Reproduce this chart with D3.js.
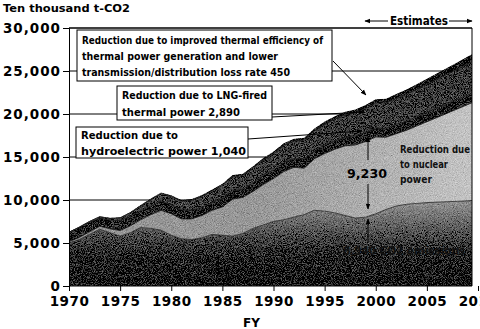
<!DOCTYPE html>
<meta charset="utf-8">
<script src="https://d3js.org/d3.v7.min.js"></script>
<style>
  body { margin: 0; background: #fff; }
  text { font-family: "DejaVu Sans", sans-serif; }
  .box text { font-family: "DejaVu Sans Condensed", "Liberation Sans Narrow", "DejaVu Sans", sans-serif; font-weight: bold; }
</style>
<div id="chart"></div>
<script>
// fiscal years
var years = d3.range(1970, 2011);

// CO2 emissions and reductions, ten thousand t-CO2
var emissions = [5000,5400,6000,6600,6200,5800,6200,6800,6700,6500,
                 5900,5500,5400,5600,6000,5900,5800,6100,6700,7100,
                 7500,7700,8000,8300,8800,8700,8500,8200,7900,8000,
                 8400,8900,9300,9500,9600,9700,9750,9800,9850,9900,
                 10000];
var nuclear = [150,250,300,350,450,650,800,900,1600,2300,
               2500,2300,2400,2600,2800,3300,4300,4200,4300,4700,
               5000,5600,5800,5400,6000,6700,7400,8100,8500,8800,
               8930,8400,8400,8600,9000,9400,9850,10300,10750,11200,
               11600];
var hydro = [1100,1150,1100,950,1000,1150,1100,1050,1000,1050,
             1050,1050,1000,950,900,1000,1000,950,1000,1050,
             1000,1050,1000,1100,950,1000,1000,1000,1050,1040,
             1040,1050,1060,1070,1080,1090,1100,1110,1120,1130,
             1150];
var lng = [0,50,100,150,200,300,400,550,750,900,
           950,1000,1150,1250,1350,1500,1600,1600,1700,1800,
           1900,2000,2050,2150,2250,2400,2500,2600,2700,2800,
           2890,2950,3030,3100,3180,3260,3340,3420,3500,3600,
           3700];
var efficiency = [50,50,60,70,80,90,100,110,120,130,
                  140,150,160,170,180,190,200,210,220,230,
                  240,250,260,280,300,320,340,360,380,420,
                  450,480,530,570,610,660,700,750,800,850,
                  900];

var yTicks = [0, 5000, 10000, 15000, 20000, 25000, 30000];
var xTicks = [1970, 1975, 1980, 1985, 1990, 1995, 2000, 2005, 2010];

var keys = ["emissions", "nuclear", "hydro", "lng", "efficiency"];
var table = years.map(function(yr, i) {
  return {year: yr, emissions: emissions[i], nuclear: nuclear[i], hydro: hydro[i],
          lng: lng[i], efficiency: efficiency[i]};
});

var W = 480, H = 329;
var pL = 69, pR = 472, pT = 28, pB = 286;

var svg = d3.select("#chart").append("svg")
  .attr("width", W).attr("height", H);

var x = d3.scaleLinear().domain([1970, 2010]).range([pL, 478]);
var y = d3.scaleLinear().domain([0, 30000]).range([pB, pT]);

var defs = svg.append("defs");
defs.append("clipPath").attr("id", "plot")
  .append("rect").attr("x", pL).attr("y", pT).attr("width", pR - pL).attr("height", pB - pT);

var gE = defs.append("linearGradient").attr("id", "gE")
  .attr("gradientUnits", "userSpaceOnUse").attr("x1", 0).attr("x2", 0).attr("y1", pB).attr("y2", 205);
gE.append("stop").attr("offset", 0).attr("stop-color", "#050505");
gE.append("stop").attr("offset", 0.35).attr("stop-color", "#222");
gE.append("stop").attr("offset", 1).attr("stop-color", "#8c8c8c");

var gN = defs.append("linearGradient").attr("id", "gN")
  .attr("gradientUnits", "userSpaceOnUse").attr("x1", 250).attr("x2", pR).attr("y1", 0).attr("y2", 0);
gN.append("stop").attr("offset", 0).attr("stop-color", "#979797");
gN.append("stop").attr("offset", 1).attr("stop-color", "#c4c4c4");

// scan-like speckle
var f = defs.append("filter").attr("id", "grain").attr("x", 0).attr("y", 0).attr("width", 1).attr("height", 1);
f.append("feTurbulence").attr("type", "fractalNoise").attr("baseFrequency", 1.1).attr("numOctaves", 2).attr("seed", 4).attr("result", "n");
f.append("feColorMatrix").attr("in", "n").attr("type", "matrix")
  .attr("values", "0.33 0.33 0.33 0 0  0.33 0.33 0.33 0 0  0.33 0.33 0.33 0 0  0 0 0 0 1").attr("result", "g");
f.append("feComposite").attr("in", "SourceGraphic").attr("in2", "g").attr("operator", "arithmetic")
  .attr("k1", 0).attr("k2", 1).attr("k3", 0.8).attr("k4", -0.4).attr("result", "mix");
f.append("feComposite").attr("in", "mix").attr("in2", "SourceGraphic").attr("operator", "in");

// gridlines (behind everything)
svg.append("g").selectAll("line").data(yTicks.filter(function(d) { return d > 0; })).enter()
  .append("line")
  .attr("x1", pL).attr("x2", pR)
  .attr("y1", function(d) { return y(d); }).attr("y2", function(d) { return y(d); })
  .attr("stroke", "#000").attr("stroke-width", 1);

// stacked areas
var series = d3.stack().keys(keys)(table);
var fills = {emissions: "url(#gE)", nuclear: "url(#gN)", hydro: "#1c1c1c", lng: "#3e3e3e", efficiency: "#000"};
var area = d3.area()
  .x(function(d) { return x(d.data.year); })
  .y0(function(d) { return y(d[0]); })
  .y1(function(d) { return y(d[1]); });

var plot = svg.append("g").attr("clip-path", "url(#plot)");
var areas = plot.append("g").attr("filter", "url(#grain)");
areas.selectAll("path").data(series).enter()
  .append("path")
  .attr("d", area)
  .attr("fill", function(d) { return fills[d.key]; });

var edge = d3.line()
  .x(function(d) { return x(d.data.year); })
  .y(function(d) { return y(d[1]); });
plot.selectAll(".edge").data(series.slice(0, 4)).enter()
  .append("path").attr("class", "edge")
  .attr("d", edge)
  .attr("fill", "none")
  .attr("stroke", function(d, i) { return i === 0 ? "#222" : "#111"; })
  .attr("stroke-width", 0.8);

// frame and axes
svg.append("path")
  .attr("d", "M" + pL + "," + pT + "H" + pR + "V" + pB)
  .attr("fill", "none").attr("stroke", "#000");

var yAxis = svg.append("g").attr("transform", "translate(" + pL + ",0)")
  .call(d3.axisLeft(y).tickValues(yTicks).tickFormat(d3.format(",")).tickSize(6).tickPadding(2));
yAxis.selectAll("text").style("font-size", "13.5px").style("font-weight", "bold").style("letter-spacing", "1px").attr("fill", "#000");
yAxis.select(".domain").attr("stroke", "#000");

var xAxis = svg.append("g").attr("transform", "translate(0," + pB + ")")
  .call(d3.axisBottom(x).tickValues(xTicks).tickFormat(d3.format("d")).tickSize(5).tickPadding(5));
xAxis.selectAll("text").style("font-size", "13.5px").style("font-weight", "bold").style("letter-spacing", "0.5px").attr("fill", "#000");
xAxis.select(".domain").attr("d", "M" + pL + ",0H" + pR);

svg.append("text").attr("x", 3).attr("y", 12)
  .attr("textLength", 127).attr("lengthAdjust", "spacingAndGlyphs")
  .style("font-size", "11px").style("font-weight", "bold").text("Ten thousand t-CO2");
svg.append("text").attr("x", 243).attr("y", 327)
  .style("font-size", "12px").style("font-weight", "bold").text("FY");

// arrows
var mk = defs.append("marker").attr("id", "ah").attr("viewBox", "0 0 10 10")
  .attr("refX", 9).attr("refY", 5).attr("markerWidth", 6).attr("markerHeight", 6).attr("orient", "auto-start-reverse");
mk.append("path").attr("d", "M0,1L10,5L0,9Z").attr("fill", "#000");

function arrow(x1, y1, x2, y2, both) {
  var l = svg.append("line").attr("x1", x1).attr("y1", y1).attr("x2", x2).attr("y2", y2)
    .attr("stroke", "#000").attr("stroke-width", 1).attr("marker-end", "url(#ah)");
  if (both) l.attr("marker-start", "url(#ah)");
}

// Estimates
arrow(388, 21, 365, 21);
arrow(449, 21, 472, 21);
svg.append("text").attr("x", 390).attr("y", 25).attr("textLength", 58).attr("lengthAdjust", "spacingAndGlyphs")
  .style("font-size", "11.5px").style("font-weight", "bold").text("Estimates");

// boxes
function box(bx, by, bw, bh, lines, narrow) {
  var g = svg.append("g").attr("class", "box");
  g.append("rect").attr("x", bx).attr("y", by).attr("width", bw).attr("height", bh)
    .attr("fill", "#fff").attr("stroke", "#000");
  lines.forEach(function(l) {
    var t = g.append("text").attr("x", bx + 5).attr("y", l[1])
      .attr("textLength", l[2]).attr("lengthAdjust", "spacingAndGlyphs")
      .style("font-size", "10.5px").text(l[0]);
    if (!narrow) t.style("font-family", "'DejaVu Sans', sans-serif");
  });
}

// leader lines
arrow(333, 61, 366, 95);
arrow(272, 117, 364, 112);
arrow(248, 139, 362, 131);

box(77, 30, 255, 51, [
  ["Reduction due to improved thermal efficiency of", 44, 241],
  ["thermal power generation and lower", 60, 196],
  ["transmission/distribution loss rate  450", 76, 208]
], true);
box(117, 86, 155, 34, [
  ["Reduction due to LNG-fired", 99, 145],
  ["thermal power  2,890", 116, 118]
], true);
box(76, 127, 172, 31, [
  ["Reduction due to", 139, 97],
  ["hydroelectric power 1,040", 155, 165]
], false);

// nuclear / emissions annotations
arrow(368, 160, 368, 137);
arrow(368, 184, 368, 209);
arrow(368, 243, 368, 219);

svg.append("text").attr("x", 347).attr("y", 178).attr("textLength", 40).attr("lengthAdjust", "spacingAndGlyphs")
  .style("font-size", "12.5px").style("font-weight", "bold").text("9,230");

var nl = ["Reduction due", "to nuclear", "power"];
var nw = [70, 48, 32];
nl.forEach(function(s, i) {
  svg.append("text").attr("x", 400).attr("y", 153 + i * 15)
    .attr("textLength", nw[i]).attr("lengthAdjust", "spacingAndGlyphs")
    .style("font-size", "10.5px").style("font-weight", "bold").attr("fill", "#111").text(s);
});

svg.append("text").attr("x", 343).attr("y", 255).attr("textLength", 122).attr("lengthAdjust", "spacingAndGlyphs")
  .style("font-size", "11.5px").style("font-weight", "bold").attr("fill", "#111").text("8,940 CO2 emissions");
</script>
